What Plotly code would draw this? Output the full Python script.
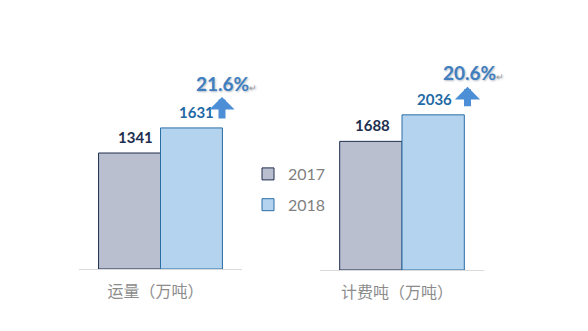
import plotly.graph_objects as go

# Two panels: freight volume and billable tonnage, 2017 vs 2018
panels = ["运量（万吨）", "计费吨（万吨）"]
years = ["2017", "2018"]
values_2017 = [1341, 1688]
values_2018 = [1631, 2036]
growth_labels = ["21.6%", "20.6%"]

fill_colors = {"2017": "#b9bfcf", "2018": "#b3d3ee"}
line_colors = {"2017": "#1e2f4f", "2018": "#2a6ea6"}
value_colors = {"2017": "#1e2f4f", "2018": "#1f6aa5"}

NUM_FONT = "Lato, 'Open Sans', sans-serif"
CJK_FONT = "'Noto Sans CJK SC', sans-serif"

fig = go.Figure()

series = {"2017": values_2017, "2018": values_2018}
for i, panel in enumerate(panels):
    xa = "x" if i == 0 else "x2"
    ya = "y" if i == 0 else "y2"
    for yr in years:
        fig.add_trace(go.Bar(
            x=[panel], y=[series[yr][i]], name=yr,
            xaxis=xa, yaxis=ya,
            offsetgroup=yr, legendgroup=yr, showlegend=(i == 0),
            marker=dict(color=fill_colors[yr],
                        line=dict(color=line_colors[yr], width=1)),
            hoverinfo="skip",
        ))

# value labels above bars (pixel nudges relative to each bar's centre)
label_dx = [{"2017": -25, "2018": 36}, {"2017": -30, "2018": 32}]
annotations = []
for i, panel in enumerate(panels):
    xr = "x" if i == 0 else "x2"
    yr_ = "y" if i == 0 else "y2"
    for yr in years:
        annotations.append(dict(
            x=panel, y=series[yr][i], xref=xr, yref=yr_,
            text=f"<b>{series[yr][i]}</b>", showarrow=False,
            xshift=label_dx[i][yr], yshift=5, yanchor="bottom",
            font=dict(family=NUM_FONT, size=15, color=value_colors[yr]),
        ))

# growth arrows and percentages next to the 2018 bars
arrow_dx = [61.5, 65.5]
arrow_tip = [31, 28]
arrow_len = [23, 21]
pct_dx = [62.5, 68]
pct_dy = [44, 42]
for i, panel in enumerate(panels):
    xr = "x" if i == 0 else "x2"
    yr_ = "y" if i == 0 else "y2"
    annotations.append(dict(
        x=panel, y=values_2018[i], xref=xr, yref=yr_,
        text="", showarrow=True, ax=0, ay=arrow_len[i],
        axref="pixel", ayref="pixel",
        xshift=arrow_dx[i], yshift=arrow_tip[i],
        arrowhead=1, arrowsize=0.6, arrowwidth=7,
        arrowcolor="#4d8fd6", standoff=0, startstandoff=0,
    ))
    annotations.append(dict(
        x=panel, y=values_2018[i], xref=xr, yref=yr_,
        text=(f"<b>{growth_labels[i]}</b>"
              "<span style='font-size:9px;color:#9a9a9a'>↵</span>"),
        showarrow=False, xshift=pct_dx[i] + 3, yshift=pct_dy[i],
        font=dict(family=NUM_FONT, size=19, color="#3f7fc0",
                  shadow="1px 1px 2px rgba(40,60,90,0.35)"),
    ))

axis_common = dict(showgrid=False, zeroline=False, showline=True,
                   linecolor="#d9d9d9", linewidth=1, ticks="",
                   range=[-0.5, 0.5], ticklabelstandoff=8,
                   ticklabelshift=-5,
                   tickfont=dict(family=CJK_FONT, size=16, color="#8c8c8c"))
yaxis_common = dict(showgrid=False, zeroline=False, showline=False,
                    showticklabels=False)

fig.update_layout(
    width=588, height=331,
    margin=dict(l=0, r=0, t=0, b=0),
    paper_bgcolor="white", plot_bgcolor="white",
    barmode="group", bargap=0.24, bargroupgap=0,
    xaxis=dict(domain=[79 / 588, 242 / 588], anchor="y", **axis_common),
    xaxis2=dict(domain=[320 / 588, 484 / 588], anchor="y2", **axis_common),
    yaxis=dict(domain=[62 / 331, 1], range=[0, 3110], anchor="x",
               **yaxis_common),
    yaxis2=dict(domain=[61 / 331, 1], range=[0, 3543], anchor="x2",
                **yaxis_common),
    legend=dict(x=248 / 588, y=1 - 157 / 331, xanchor="left", yanchor="top",
                bgcolor="rgba(0,0,0,0)", tracegroupgap=7,
                traceorder="grouped",
                font=dict(family=NUM_FONT, size=16, color="#7f7f7f")),
    annotations=annotations,
    showlegend=True,
)

fig.write_html("out.html")
